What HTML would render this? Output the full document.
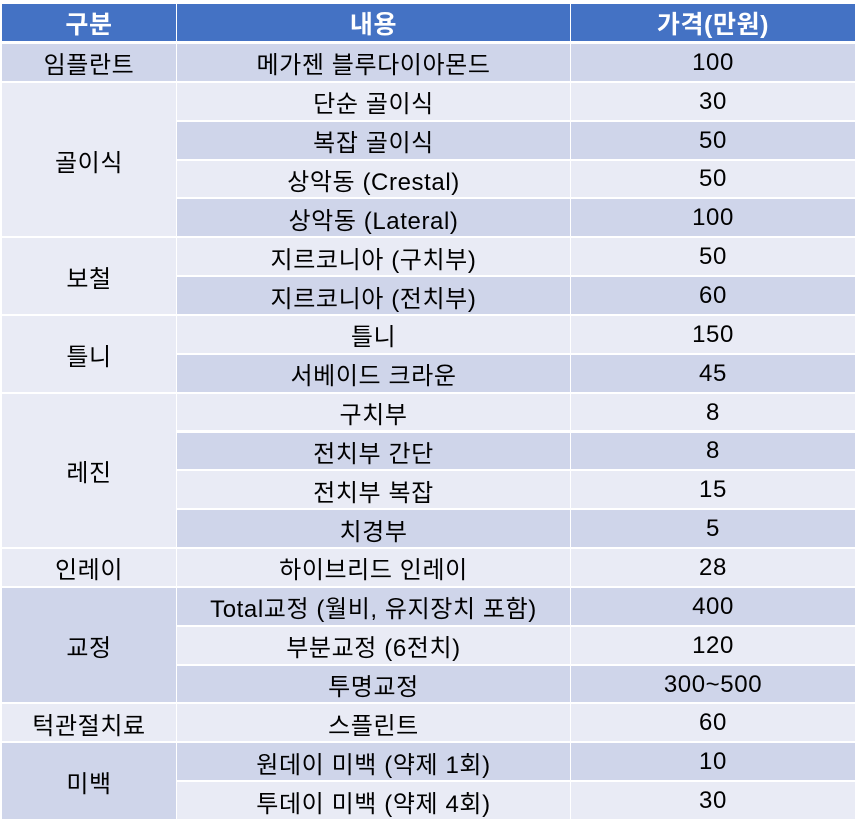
<!DOCTYPE html>
<html><head><meta charset="utf-8"><style>
body{margin:0;width:858px;height:831px;background:#fff;position:relative;overflow:hidden;font-family:"Liberation Sans","Noto Sans CJK KR",sans-serif;}
.c{position:absolute;display:flex;align-items:center;justify-content:center;font-size:24px;letter-spacing:0.6px;color:#000;box-sizing:border-box;padding-top:1px;white-space:nowrap;}
.h{background:#4472C4;color:#fff;font-weight:bold;font-size:25px;}
.d{background:#CFD5EA}.l{background:#E9EBF5}
</style></head><body>
<div id="t"></div>
<script>
const rows=[["임플란트","메가젠 블루다이아몬드","100",1],["골이식","단순 골이식","30",4],["","복잡 골이식","50"],["","상악동 (Crestal)","50"],["","상악동 (Lateral)","100"],["보철","지르코니아 (구치부)","50",2],["","지르코니아 (전치부)","60"],["틀니","틀니","150",2],["","서베이드 크라운","45"],["레진","구치부","8",4],["","전치부 간단","8"],["","전치부 복잡","15"],["","치경부","5"],["인레이","하이브리드 인레이","28",1],["교정","Total교정 (월비, 유지장치 포함)","400",3],["","부분교정 (6전치)","120"],["","투명교정","300~500"],["턱관절치료","스플린트","60",1],["미백","원데이 미백 (약제 1회)","10",2],["","투데이 미백 (약제 4회)","30"]];
let h='';
const X=[2,177,571,856],top0=44,rh=38.85;
[["구분"],["내용"],["가격(만원)"]].forEach((t,j)=>{h+=`<div class="c h" style="left:${X[j]}px;top:4px;width:${X[j+1]-X[j]-1}px;height:37px">${t}</div>`});
rows.forEach((r,i)=>{const cls=i%2==0?'d':'l';const y=top0+i*rh;
 if(r[3]){h+=`<div class="c ${cls}" style="left:${X[0]}px;top:${y}px;width:${X[1]-X[0]-1}px;height:${r[3]*rh-2}px">${r[0]}</div>`;}
 h+=`<div class="c ${cls}" style="left:${X[1]}px;top:${y}px;width:${X[2]-X[1]-1}px;height:${rh-2}px">${r[1]}</div>`;
 h+=`<div class="c ${cls}" style="left:${X[2]}px;top:${y}px;width:${X[3]-X[2]-1}px;height:${rh-2}px">${r[2]}</div>`;
});
document.getElementById('t').innerHTML=h;
</script>
</body></html>
